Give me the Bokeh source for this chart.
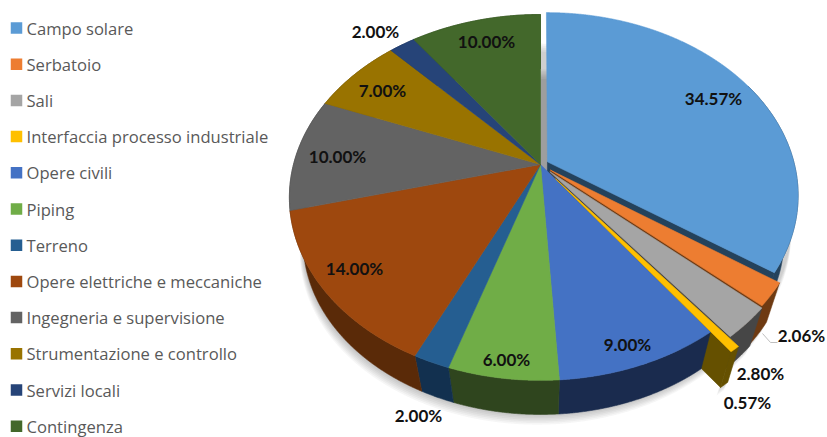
import math
from bokeh.plotting import figure
from bokeh.embed import file_html
from bokeh.resources import INLINE
from bokeh.core.properties import value

# ---- data ----
categories = ["Campo solare", "Serbatoio", "Sali", "Interfaccia processo industriale",
              "Opere civili", "Piping", "Terreno", "Opere elettriche e meccaniche",
              "Ingegneria e supervisione", "Strumentazione e controllo", "Servizi locali",
              "Contingenza"]
shares = [34.57, 2.06, 2.80, 0.57, 9.00, 6.00, 2.00, 14.00, 10.00, 7.00, 2.00, 10.00]

# ---- styles ----
top_colors = ["#5B9BD5", "#ED7D31", "#A5A5A5", "#FFC000", "#4472C4", "#70AD47",
              "#255E91", "#9E480E", "#636363", "#997300", "#264478", "#43682B"]
wall_colors = ["#24425C", "#6E3A12", "#464646", "#655000", "#1A2B4E", "#2F451E",
               "#12304F", "#5A2A08", "#3A3A3A", "#5A4400", "#14264A", "#27401A"]
explode = [0.032, 0.05, 0.055, 0.10, 0, 0, 0, 0, 0, 0, 0, 0]

# ---- layout (pixel space of the page) ----
CX, CY, A, B, K = 540.0, 164.0, 247.0, 177.0, 0.18
VPX, VPY, T = 540.0, 1000.0, 0.055
label_pos = [(713, 98), (801, 335), (760, 373), (747, 402), (627, 344), (506, 359),
             (418, 415), (354, 268), (337, 156), (382, 90), (375, 31), (486, 41)]
LEG_X, LEG_Y0, LEG_DY = 16, 27.5, 36.2


def proj(u, v):
    d = 1 + K * v
    return CX + A * u / d, CY - B * v / d


def drop(p, t=T):
    return p[0] + t * (VPX - p[0]), p[1] + t * (VPY - p[1])


def arc(a0, a1, e, am):
    n = max(2, int(abs(a1 - a0) * 360))
    du, dv = e * math.sin(am), e * math.cos(am)
    return [proj(math.sin(a0 + (a1 - a0) * i / n) + du, math.cos(a0 + (a1 - a0) * i / n) + dv)
            for i in range(n + 1)]


total = sum(shares)
edges = [0.0]
for s in shares:
    edges.append(edges[-1] + s / total * 2 * math.pi)

tops, walls, radials = [], [], []
for i in range(len(shares)):
    a0, a1 = edges[i], edges[i + 1]
    am = (a0 + a1) / 2
    e = explode[i]
    ar = arc(a0, a1, e, am)
    apex = proj(e * math.sin(am), e * math.cos(am))
    tops.append([apex] + ar)
    # the far half of the first, wide slice has no visible wall
    front = ar[len(ar) // 2:] if i == 0 else ar
    walls.append(front + [drop(q) for q in reversed(front)])
    radials.append([apex, ar[-1], drop(ar[-1]), drop(apex)])

p = figure(width=827, height=437, x_range=(0, 827), y_range=(437, 0),
           output_backend="svg", toolbar_location=None, min_border=0)
p.axis.visible = False
p.grid.visible = False
p.outline_line_color = None
p.background_fill_color = "white"
p.border_fill_color = "white"


def poly(pts, color, alpha=1.0, lw=0.6):
    p.patch([q[0] for q in pts], [q[1] for q in pts], fill_color=color, fill_alpha=alpha,
            line_color=color if lw else None, line_alpha=alpha, line_width=lw)


# soft shadows
full = arc(0, 2 * math.pi, 0, 0)
base = [drop(q) for q in full]
for k in range(7):
    poly([(q[0] - 1 - 0.4 * k, q[1] + 0.6 + 1.6 * k) for q in base], "#000000", 0.035, 0)
for k in range(5):
    poly([(q[0] - 7, q[1] + 31 + 2 * k) for q in tops[0]], "#000000", 0.04, 0)
for i in (1, 2, 3):
    for k in range(4):
        poly([(q[0] - 1 - k, q[1] + 2 + 2 * k) for q in walls[i]], "#000000", 0.04, 0)

# exploded slices, back to front
for i in (0, 1, 2):
    poly(walls[i], wall_colors[i])
    poly(radials[i], wall_colors[i])
    poly(tops[i], top_colors[i])
poly(walls[3], wall_colors[3])
poly(radials[3], wall_colors[3])

# main body
for i in range(4, len(shares)):
    poly(walls[i], wall_colors[i])
for i in range(4, len(shares)):
    poly(tops[i], top_colors[i])
poly(tops[3], top_colors[3])

# leader of the small slice
lx, ly = label_pos[1]
p.line([lx - 39, lx - 31, lx - 24], [ly - 2, ly + 7, ly + 7], line_color="#BFBFBF", line_width=1)

# value labels
p.text([q[0] for q in label_pos], [q[1] for q in label_pos],
       text=[f"{s:.2f}%" for s in shares], text_font=value("Lato"), text_font_size="17px",
       text_font_style="bold", text_color="#111111", text_align="center",
       text_baseline="middle")

# legend
ys = [LEG_Y0 + LEG_DY * i for i in range(len(categories))]
p.scatter([LEG_X] * len(ys), ys, marker="square", size=11.5, fill_color=top_colors,
          line_color=None)
p.text([LEG_X + 10] * len(ys), ys, text=categories, text_font=value("Open Sans"),
       text_font_size="16.6px", text_color="#595959", text_align="left", text_baseline="middle")

open("out.html", "w").write(file_html(p, INLINE))
